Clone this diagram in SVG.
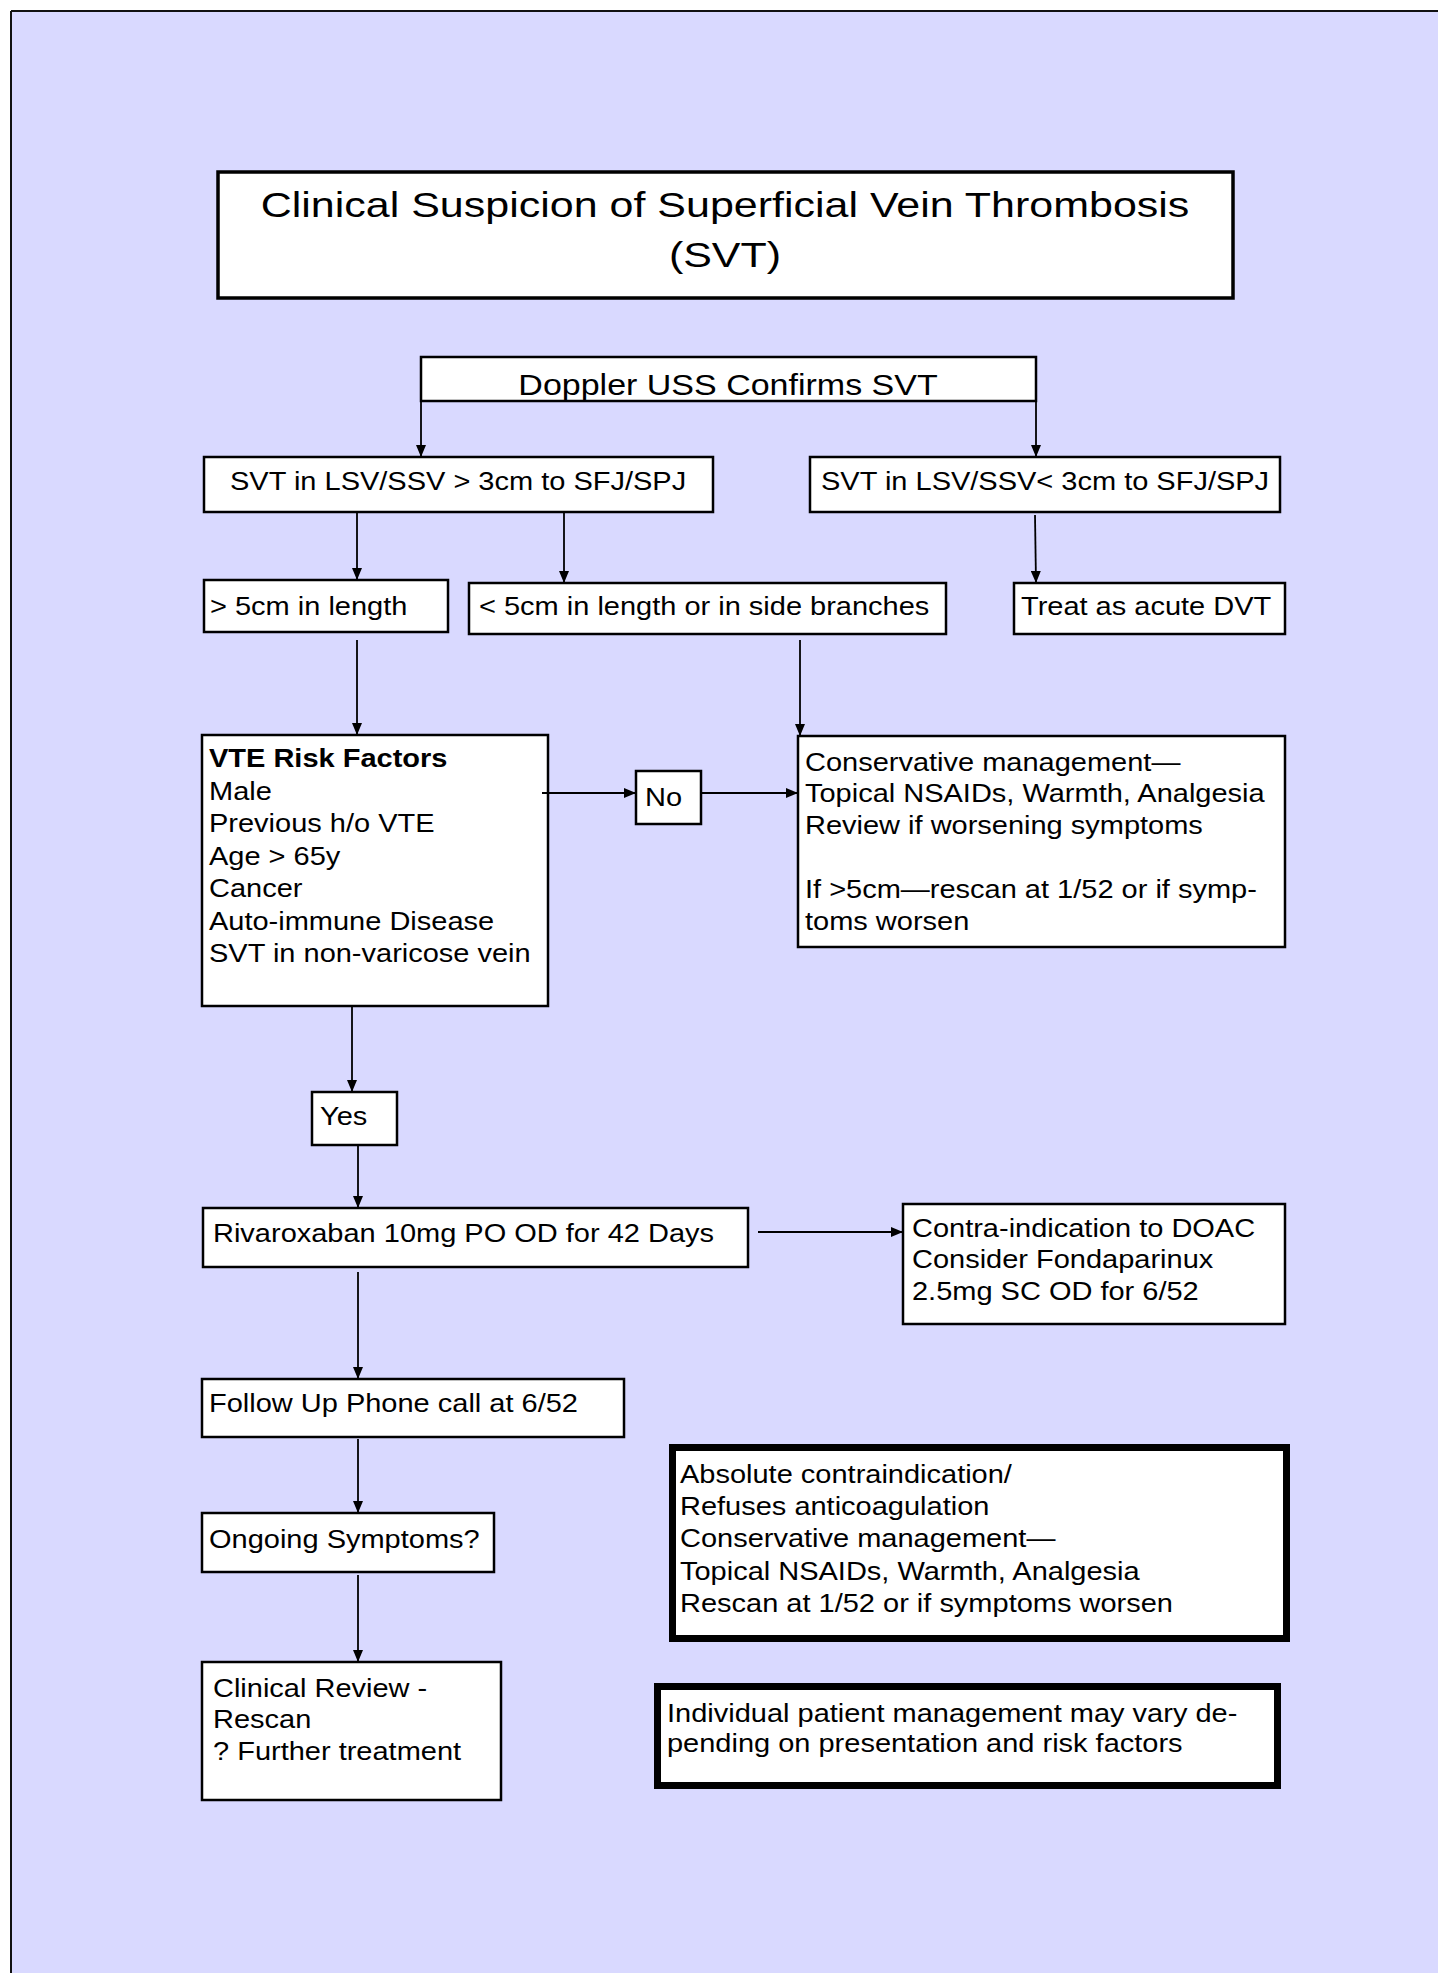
<svg xmlns="http://www.w3.org/2000/svg" width="1438" height="1973" viewBox="0 0 1438 1973">
<style>
.bg{fill:#D9D9FF}
.box{fill:#fff;stroke:#000;stroke-width:2.5}
.tbox{fill:#fff;stroke:#000;stroke-width:3.5}
.thick{fill:#fff;stroke:#000;stroke-width:7}
.t{font-family:"Liberation Sans",Arial,sans-serif;font-size:29px;fill:#000}
.b{font-weight:bold}
.c{stroke:#000;stroke-width:1.8;fill:none;marker-end:url(#ah)}
.edge{stroke:#111;stroke-width:2}
</style>
<defs>
<marker id="ah" markerUnits="userSpaceOnUse" markerWidth="12" markerHeight="10" refX="12" refY="5" orient="auto"><path d="M0,0 L12,5 L0,10 z" fill="#000"/></marker>
</defs>
<rect x="0" y="0" width="1438" height="1973" fill="#fff"/>
<rect class="bg" x="11" y="11" width="1427" height="1962"/>
<line class="edge" x1="11" y1="11" x2="1438" y2="11"/>
<line class="edge" x1="11" y1="11" x2="11" y2="1973"/>

<g id="title">
<rect class="tbox" x="218" y="172" width="1015" height="126"/>
<g transform="translate(725,217) scale(1,0.837)"><text class="t" style="font-size:43px" text-anchor="middle"><tspan x="0" y="0">Clinical Suspicion of Superficial Vein Thrombosis</tspan><tspan x="0" y="60">(SVT)</tspan></text></g>
</g>

<g id="doppler">
<rect class="box" x="421" y="357" width="615" height="44"/>
<g transform="translate(728,395) scale(1,0.88)"><text class="t" style="font-size:34px" text-anchor="middle">Doppler USS Confirms SVT</text></g>
</g>

<g id="svt-far">
<rect class="box" x="204" y="457" width="509" height="55"/>
<g transform="translate(230,490) scale(1,0.86)"><text class="t">SVT in LSV/SSV &gt; 3cm to SFJ/SPJ</text></g>
</g>

<g id="svt-near">
<rect class="box" x="810" y="457" width="470" height="55"/>
<g transform="translate(821,490) scale(1,0.86)"><text class="t">SVT in LSV/SSV&lt; 3cm to SFJ/SPJ</text></g>
</g>

<g id="long">
<rect class="box" x="204" y="580" width="244" height="52"/>
<g transform="translate(210,615) scale(1,0.86)"><text class="t">&gt; 5cm in length</text></g>
</g>

<g id="short">
<rect class="box" x="469" y="583" width="477" height="51"/>
<g transform="translate(479,615) scale(1,0.86)"><text class="t">&lt; 5cm in length or in side branches</text></g>
</g>

<g id="treat-dvt">
<rect class="box" x="1014" y="583" width="271" height="51"/>
<g transform="translate(1021,615) scale(1,0.86)"><text class="t">Treat as acute DVT</text></g>
</g>

<g id="vte-risk">
<rect class="box" x="202" y="735" width="346" height="271"/>
<g transform="translate(209,767) scale(1,0.86)"><text class="t"><tspan x="0" y="0" class="b">VTE Risk Factors</tspan><tspan x="0" y="37.8">Male</tspan><tspan x="0" y="75.6">Previous h/o VTE</tspan><tspan x="0" y="113.4">Age &gt; 65y</tspan><tspan x="0" y="151.2">Cancer</tspan><tspan x="0" y="189">Auto-immune Disease</tspan><tspan x="0" y="226.8">SVT in non-varicose vein</tspan></text></g>
</g>

<g id="no">
<rect class="box" x="636" y="771" width="65" height="53"/>
<g transform="translate(645,806) scale(1,0.86)"><text class="t">No</text></g>
</g>

<g id="conservative">
<rect class="box" x="798" y="736" width="487" height="211"/>
<g transform="translate(805,771) scale(1,0.86)"><text class="t"><tspan x="0" y="0">Conservative management—</tspan><tspan x="0" y="36.6">Topical NSAIDs, Warmth, Analgesia</tspan><tspan x="0" y="73.2">Review if worsening symptoms</tspan><tspan x="0" y="148">If &gt;5cm—rescan at 1/52 or if symp-</tspan><tspan x="0" y="184.6">toms worsen</tspan></text></g>
</g>

<g id="yes">
<rect class="box" x="312" y="1092" width="85" height="53"/>
<g transform="translate(320,1125) scale(1,0.86)"><text class="t">Yes</text></g>
</g>

<g id="rivaroxaban">
<rect class="box" x="203" y="1208" width="545" height="59"/>
<g transform="translate(213,1242) scale(1,0.86)"><text class="t">Rivaroxaban 10mg PO OD for 42 Days</text></g>
</g>

<g id="contra">
<rect class="box" x="903" y="1204" width="382" height="120"/>
<g transform="translate(912,1237) scale(1,0.86)"><text class="t"><tspan x="0" y="0">Contra-indication to DOAC</tspan><tspan x="0" y="36.6">Consider Fondaparinux</tspan><tspan x="0" y="73.2">2.5mg SC OD for 6/52</tspan></text></g>
</g>

<g id="follow-up">
<rect class="box" x="202" y="1379" width="422" height="58"/>
<g transform="translate(209,1412) scale(1,0.86)"><text class="t">Follow Up Phone call at 6/52</text></g>
</g>

<g id="ongoing">
<rect class="box" x="202" y="1513" width="292" height="59"/>
<g transform="translate(209,1548) scale(1,0.86)"><text class="t">Ongoing Symptoms?</text></g>
</g>

<g id="clinical-review">
<rect class="box" x="202" y="1662" width="299" height="138"/>
<g transform="translate(213,1697) scale(1,0.86)"><text class="t"><tspan x="0" y="0">Clinical Review -</tspan><tspan x="0" y="36.3">Rescan</tspan><tspan x="0" y="73.5">? Further treatment</tspan></text></g>
</g>

<g id="absolute">
<rect class="thick" x="672.5" y="1447.5" width="614" height="191"/>
<g transform="translate(680,1483) scale(1,0.86)"><text class="t"><tspan x="0" y="0">Absolute contraindication/</tspan><tspan x="0" y="37.5">Refuses anticoagulation</tspan><tspan x="0" y="75">Conservative management—</tspan><tspan x="0" y="112.5">Topical NSAIDs, Warmth, Analgesia</tspan><tspan x="0" y="150">Rescan at 1/52 or if symptoms worsen</tspan></text></g>
</g>

<g id="individual">
<rect class="thick" x="657.5" y="1686.5" width="620" height="99"/>
<g transform="translate(667,1722) scale(1,0.86)"><text class="t"><tspan x="0" y="0">Individual patient management may vary de-</tspan><tspan x="0" y="34.9">pending on presentation and risk factors</tspan></text></g>
</g>

<g id="connectors">
<line class="c" x1="421" y1="401" x2="421" y2="457"/>
<line class="c" x1="1036" y1="401" x2="1036" y2="457"/>
<line class="c" x1="357" y1="513" x2="357" y2="580"/>
<line class="c" x1="564" y1="512" x2="564" y2="583"/>
<line class="c" x1="1035" y1="515" x2="1036" y2="583"/>
<line class="c" x1="357" y1="640" x2="357" y2="735"/>
<line class="c" x1="800" y1="640" x2="800" y2="736"/>
<line class="c" x1="542" y1="793" x2="636" y2="793"/>
<line class="c" x1="701" y1="793" x2="798" y2="793"/>
<line class="c" x1="352" y1="1006" x2="352" y2="1092"/>
<line class="c" x1="358" y1="1145" x2="358" y2="1208"/>
<line class="c" x1="758" y1="1232" x2="903" y2="1232"/>
<line class="c" x1="358" y1="1272" x2="358" y2="1379"/>
<line class="c" x1="358" y1="1439" x2="358" y2="1513"/>
<line class="c" x1="358" y1="1575" x2="358" y2="1662"/>
</g>
</svg>
